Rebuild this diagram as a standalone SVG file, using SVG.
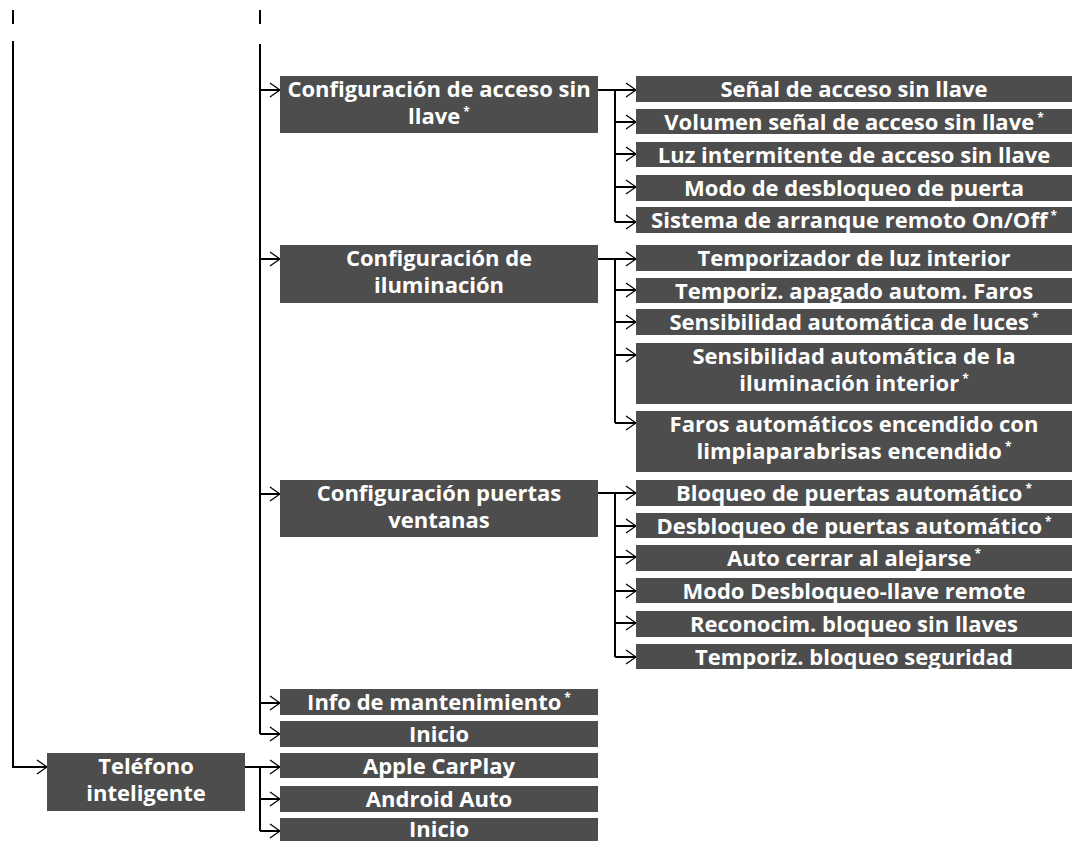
<svg xmlns="http://www.w3.org/2000/svg" width="1072" height="841" viewBox="0 0 1072 841">
<defs>
<style>
.box{fill:#4d4d4d}
.t{font-family:"Open Sans","Noto Sans","Liberation Sans",sans-serif;font-weight:700;font-size:22px;fill:#fff;text-anchor:middle}
.s{font-size:12px}
.ln{fill:none;stroke:#000;stroke-width:2}
.ar{fill:none;stroke:#000;stroke-width:2;marker-end:url(#arr)}
</style>
<marker id="arr" viewBox="0 0 12 16" refX="11" refY="8" markerWidth="12" markerHeight="16" orient="auto" markerUnits="userSpaceOnUse">
<path d="M1,1 L11,8 L1,15" fill="none" stroke="#000" stroke-width="1.3"/>
</marker>
</defs>
<rect width="1072" height="841" fill="#fff"/>
<g id="connectors">
<path class="ln" d="M13,10 V24 M260,10 V24"/>
<path class="ln" d="M13,41 V767 H34"/>
<path class="ar" d="M34,767 H47"/>
<path class="ln" d="M260,44 V734"/>
<path class="ar" d="M260,90 H280"/>
<path class="ar" d="M260,259 H280"/>
<path class="ar" d="M260,494 H280"/>
<path class="ar" d="M260,703 H280"/>
<path class="ar" d="M260,734 H280"/>
<path class="ln" d="M245,767 H262 M260,767 V831"/>
<path class="ar" d="M260,767 H280"/>
<path class="ar" d="M260,799 H280"/>
<path class="ar" d="M260,831 H280"/>
<path class="ln" d="M598,90 H617 M615,90 V222"/>
<path class="ar" d="M615,90 H636"/>
<path class="ar" d="M615,122 H636"/>
<path class="ar" d="M615,154 H636"/>
<path class="ar" d="M615,187 H636"/>
<path class="ar" d="M615,222 H636"/>
<path class="ln" d="M598,259 H617 M615,259 V423"/>
<path class="ar" d="M615,259 H636"/>
<path class="ar" d="M615,290 H636"/>
<path class="ar" d="M615,322 H636"/>
<path class="ar" d="M615,355 H636"/>
<path class="ar" d="M615,423 H636"/>
<path class="ln" d="M598,493 H617 M615,493 V657"/>
<path class="ar" d="M615,493 H636"/>
<path class="ar" d="M615,526 H636"/>
<path class="ar" d="M615,557 H636"/>
<path class="ar" d="M615,591 H636"/>
<path class="ar" d="M615,623 H636"/>
<path class="ar" d="M615,657 H636"/>
</g>
<g id="n-acceso"><rect class="box" x="280" y="76" width="318" height="57"/><text class="t" x="439" y="97">Configuración de acceso sin<tspan x="439" dy="27">llave</tspan><tspan class="s" dx="3" dy="-8">*</tspan></text></g>
<g id="n-ilum"><rect class="box" x="280" y="245" width="318" height="58"/><text class="t" x="439" y="266">Configuración de<tspan x="439" dy="27">iluminación</tspan></text></g>
<g id="n-puertas"><rect class="box" x="280" y="480" width="318" height="57"/><text class="t" x="439" y="501">Configuración puertas<tspan x="439" dy="27">ventanas</tspan></text></g>
<g id="n-info"><rect class="box" x="280" y="689" width="318" height="26"/><text class="t" x="439" y="710">Info de mantenimiento<tspan class="s" dx="3" dy="-8">*</tspan></text></g>
<g id="n-inicio1"><rect class="box" x="280" y="721" width="318" height="26"/><text class="t" x="439" y="742">Inicio</text></g>
<g id="n-telefono"><rect class="box" x="47" y="753" width="198" height="58"/><text class="t" x="146" y="774">Teléfono<tspan x="146" dy="27">inteligente</tspan></text></g>
<g id="n-carplay"><rect class="box" x="280" y="753" width="318" height="25"/><text class="t" x="439" y="774">Apple CarPlay</text></g>
<g id="n-android"><rect class="box" x="280" y="786" width="318" height="26"/><text class="t" x="439" y="807">Android Auto</text></g>
<g id="n-inicio2"><rect class="box" x="280" y="818" width="318" height="23"/><text class="t" x="439" y="837">Inicio</text></g>
<g id="n-a1"><rect class="box" x="636" y="76" width="436" height="26"/><text class="t" x="854" y="97">Señal de acceso sin llave</text></g>
<g id="n-a2"><rect class="box" x="636" y="109" width="436" height="25"/><text class="t" x="854" y="130">Volumen señal de acceso sin llave<tspan class="s" dx="3" dy="-8">*</tspan></text></g>
<g id="n-a3"><rect class="box" x="636" y="142" width="436" height="25"/><text class="t" x="854" y="163">Luz intermitente de acceso sin llave</text></g>
<g id="n-a4"><rect class="box" x="636" y="175" width="436" height="26"/><text class="t" x="854" y="196">Modo de desbloqueo de puerta</text></g>
<g id="n-a5"><rect class="box" x="636" y="207" width="436" height="26"/><text class="t" x="854" y="228">Sistema de arranque remoto On/Off<tspan class="s" dx="3" dy="-8">*</tspan></text></g>
<g id="n-b1"><rect class="box" x="636" y="245" width="436" height="26"/><text class="t" x="854" y="266">Temporizador de luz interior</text></g>
<g id="n-b2"><rect class="box" x="636" y="278" width="436" height="25"/><text class="t" x="854" y="299">Temporiz. apagado autom. Faros</text></g>
<g id="n-b3"><rect class="box" x="636" y="309" width="436" height="26"/><text class="t" x="854" y="330">Sensibilidad automática de luces<tspan class="s" dx="3" dy="-8">*</tspan></text></g>
<g id="n-b4"><rect class="box" x="636" y="343" width="436" height="61"/><text class="t" x="854" y="364">Sensibilidad automática de la<tspan x="854" dy="27">iluminación interior</tspan><tspan class="s" dx="3" dy="-8">*</tspan></text></g>
<g id="n-b5"><rect class="box" x="636" y="411" width="436" height="61"/><text class="t" x="854" y="432">Faros automáticos encendido con<tspan x="854" dy="27">limpiaparabrisas encendido</tspan><tspan class="s" dx="3" dy="-8">*</tspan></text></g>
<g id="n-c1"><rect class="box" x="636" y="480" width="436" height="26"/><text class="t" x="854" y="501">Bloqueo de puertas automático<tspan class="s" dx="3" dy="-8">*</tspan></text></g>
<g id="n-c2"><rect class="box" x="636" y="513" width="436" height="25"/><text class="t" x="854" y="534">Desbloqueo de puertas automático<tspan class="s" dx="3" dy="-8">*</tspan></text></g>
<g id="n-c3"><rect class="box" x="636" y="545" width="436" height="26"/><text class="t" x="854" y="566">Auto cerrar al alejarse<tspan class="s" dx="3" dy="-8">*</tspan></text></g>
<g id="n-c4"><rect class="box" x="636" y="578" width="436" height="25"/><text class="t" x="854" y="599">Modo Desbloqueo-llave remote</text></g>
<g id="n-c5"><rect class="box" x="636" y="611" width="436" height="26"/><text class="t" x="854" y="632">Reconocim. bloqueo sin llaves</text></g>
<g id="n-c6"><rect class="box" x="636" y="644" width="436" height="25"/><text class="t" x="854" y="665">Temporiz. bloqueo seguridad</text></g>
</svg>
